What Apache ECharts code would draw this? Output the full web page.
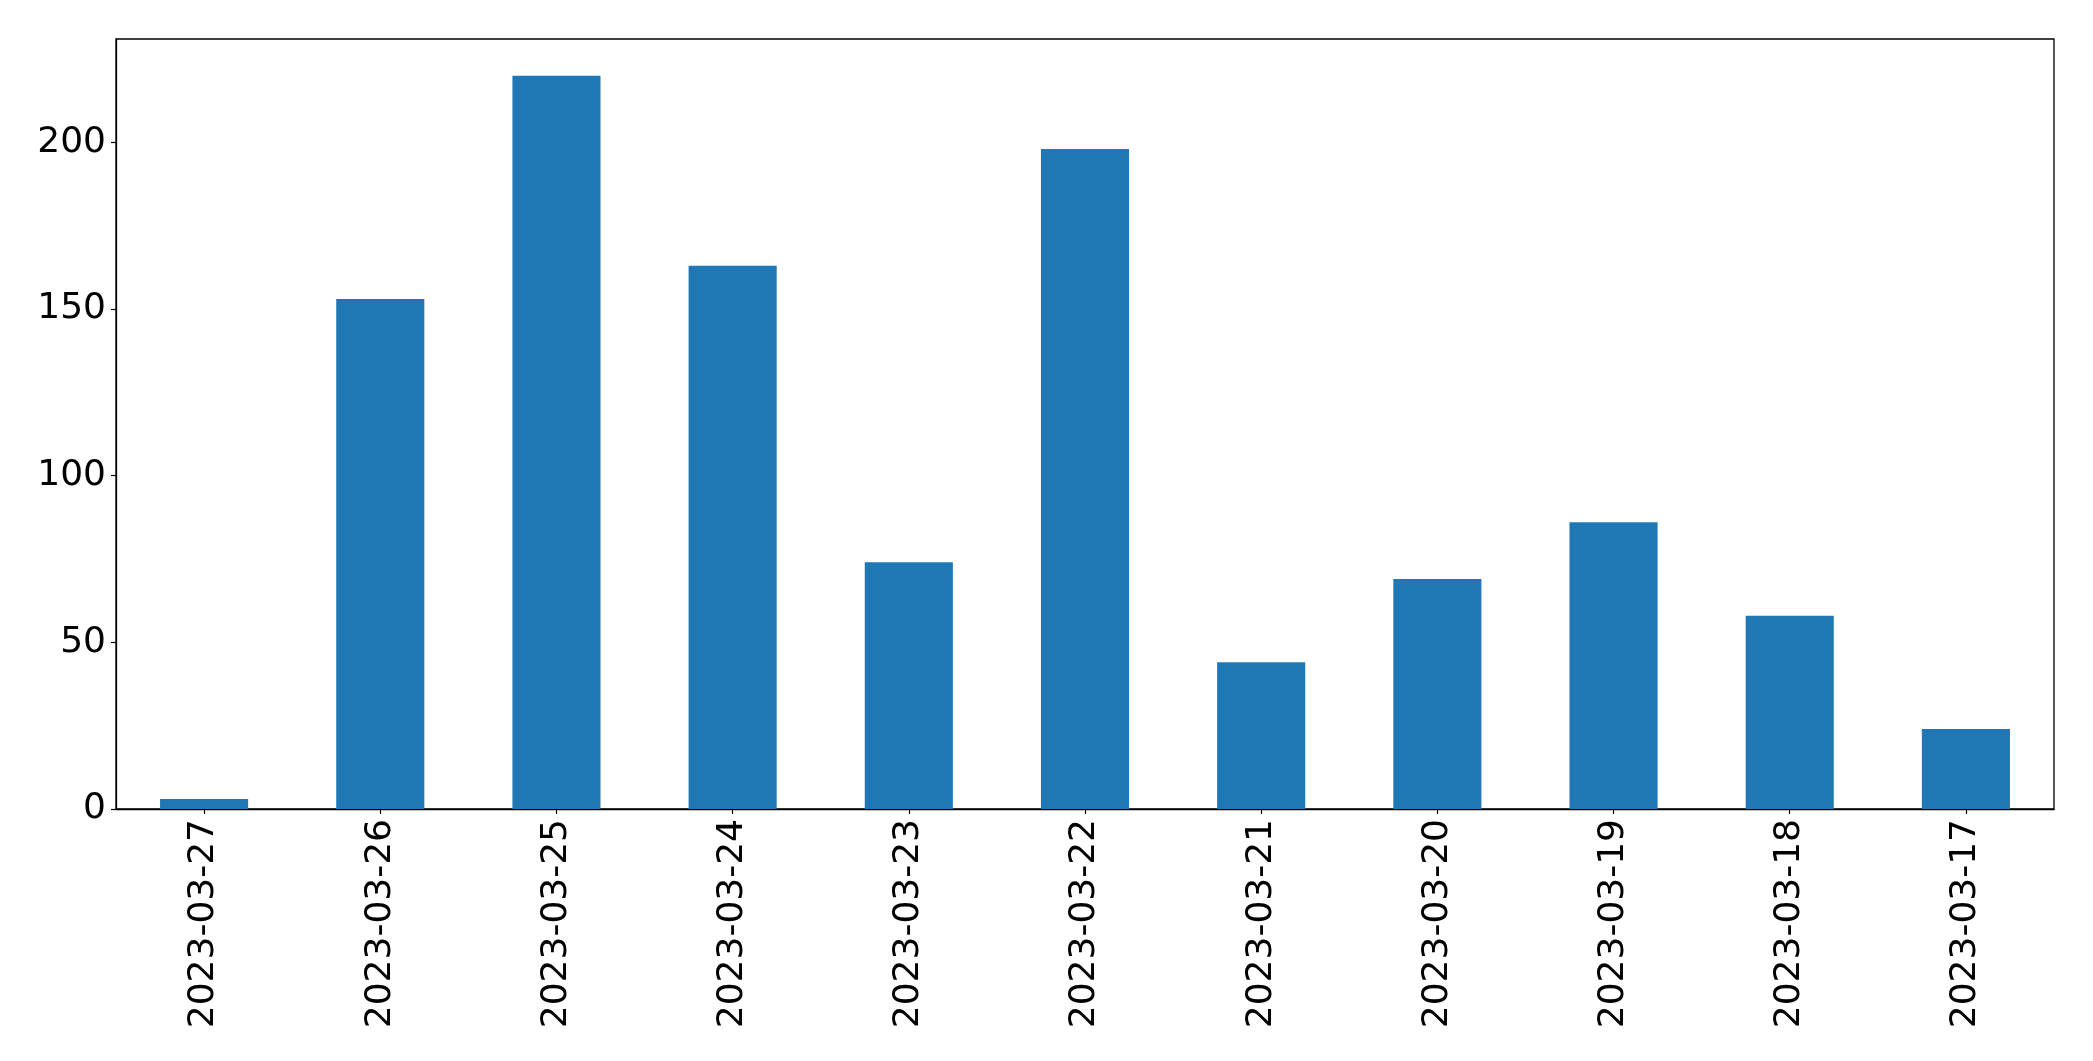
<!DOCTYPE html>
<html>
<head>
<meta charset="utf-8">
<script src="https://cdn.jsdelivr.net/npm/echarts@6/dist/echarts.min.js"></script>
<style>html,body{margin:0;padding:0;background:#fff}#c{width:2093px;height:1061px}</style>
</head>
<body>
<div id="c"></div>
<script>
const categories = ["2023-03-27","2023-03-26","2023-03-25","2023-03-24","2023-03-23","2023-03-22","2023-03-21","2023-03-20","2023-03-19","2023-03-18","2023-03-17"];
const values = [3, 153, 220, 163, 74, 198, 44, 69, 86, 58, 24];
const yTicks = [0, 50, 100, 150, 200];
const yMax = 231;

const chart = echarts.init(document.getElementById('c'), null, {renderer: 'canvas'});
const font = 'DejaVu Sans';
chart.setOption({
  animation: false,
  backgroundColor: '#fff',
  grid: {
    left: 116, right: 39, top: 39, bottom: 252,
    containLabel: false, outerBoundsMode: 'none',
    show: true, borderColor: '#000', borderWidth: 1.3, backgroundColor: 'transparent'
  },
  xAxis: {
    type: 'category',
    data: categories,
    boundaryGap: true,
    axisLine: {show: true, lineStyle: {color: '#000', width: 1.3}},
    axisTick: {show: true, alignWithLabel: true, length: 5, lineStyle: {color: '#000', width: 1.2}},
    axisLabel: {rotate: 90, fontSize: 36, fontFamily: font, color: '#000', margin: 10, interval: 0},
    splitLine: {show: false}
  },
  yAxis: {
    type: 'value',
    min: 0, max: yMax,
    axisLine: {show: true, lineStyle: {color: '#000', width: 1.3}},
    axisTick: {show: true, length: 5, customValues: yTicks, lineStyle: {color: '#000', width: 1.2}},
    axisLabel: {fontSize: 36, fontFamily: font, color: '#000', margin: 10, customValues: yTicks},
    splitLine: {show: false}
  },
  series: [{
    type: 'bar',
    data: values,
    barWidth: '50%',
    itemStyle: {color: '#1f77b4'}
  }]
});
</script>
</body>
</html>
